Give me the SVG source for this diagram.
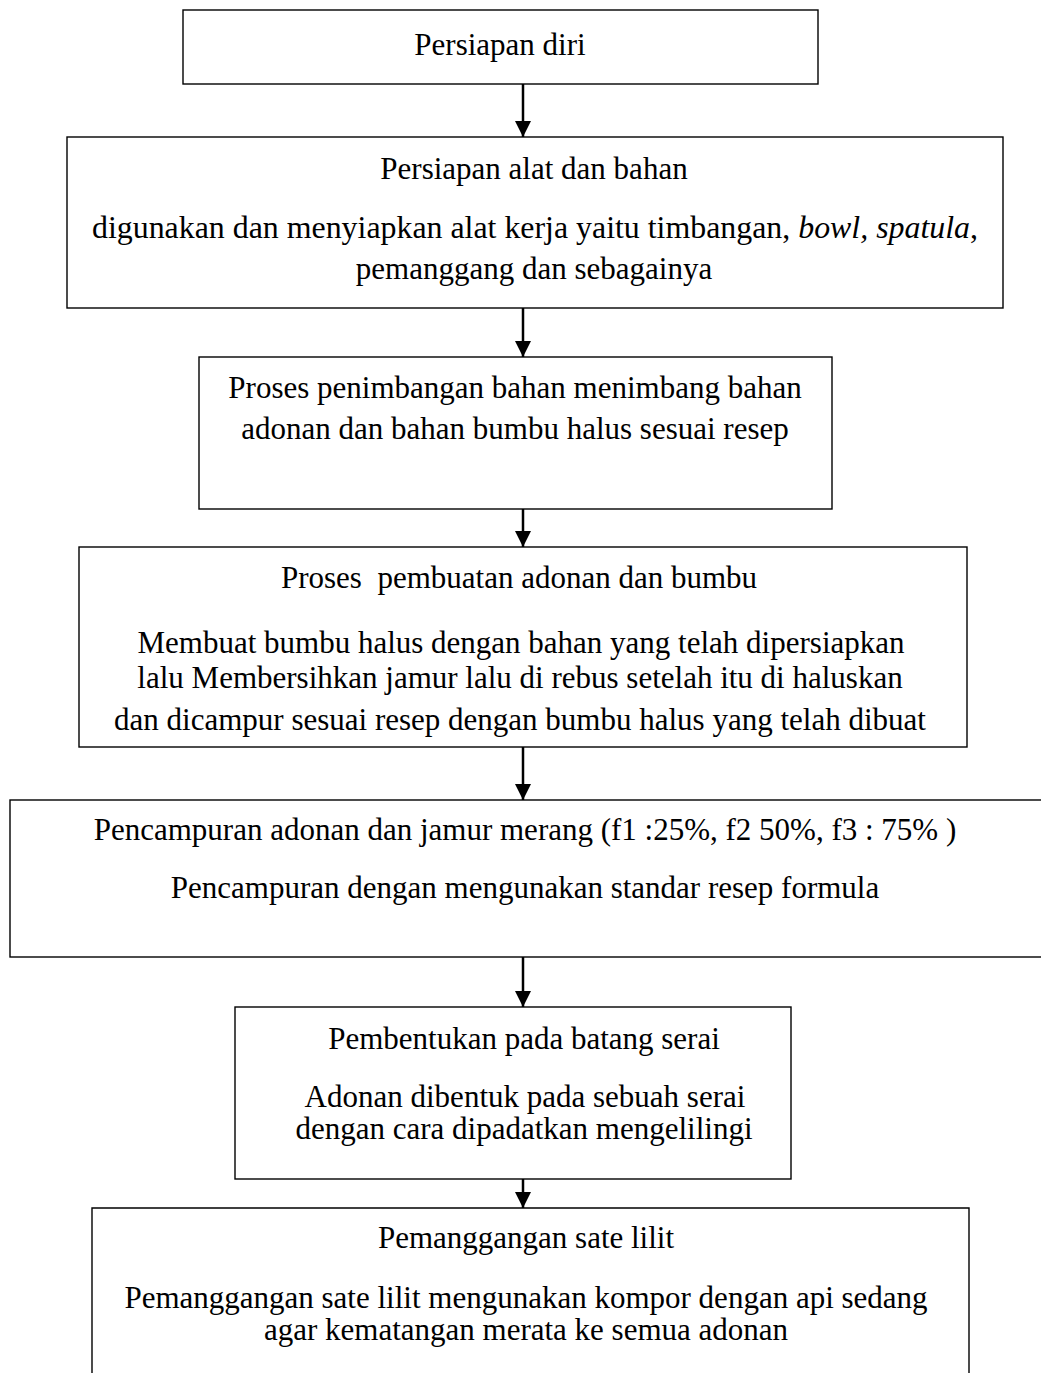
<svg xmlns="http://www.w3.org/2000/svg" width="1041" height="1373" viewBox="0 0 1041 1373">
<style>
.box{fill:#fff;stroke:#000;stroke-width:1.4}
.t{font-family:"Liberation Serif","Times New Roman",serif;font-size:31px;fill:#000;text-anchor:middle}
.c{stroke:#000;stroke-width:2.5;fill:none}
</style>
<defs>
<marker id="ah" viewBox="0 0 16 16" refX="16" refY="8" markerWidth="16" markerHeight="16" markerUnits="userSpaceOnUse" orient="auto">
<path d="M0,0 L16,8 L0,16 Z" fill="#000"/>
</marker>
</defs>
<rect width="1041" height="1373" fill="#fff"/>
<g id="n1"><rect class="box" x="183" y="10" width="635" height="74"/>
<text class="t" x="500" y="55">Persiapan diri</text></g>
<g id="n2"><rect class="box" x="67" y="137" width="936" height="171"/>
<text class="t" x="534" y="179">Persiapan alat dan bahan</text>
<text class="t" x="535" y="238" textLength="886" lengthAdjust="spacingAndGlyphs">digunakan dan menyiapkan alat kerja yaitu timbangan, <tspan font-style="italic">bowl, spatula</tspan>,</text>
<text class="t" x="534" y="279">pemanggang dan sebagainya</text></g>
<g id="n3"><rect class="box" x="199" y="357" width="633" height="152"/>
<text class="t" x="515" y="398">Proses penimbangan bahan menimbang bahan</text>
<text class="t" x="515" y="439">adonan dan bahan bumbu halus sesuai resep</text></g>
<g id="n4"><rect class="box" x="79" y="547" width="888" height="200"/>
<text class="t" x="519" y="588" xml:space="preserve">Proses  pembuatan adonan dan bumbu</text>
<text class="t" x="521" y="653">Membuat bumbu halus dengan bahan yang telah dipersiapkan</text>
<text class="t" x="520" y="688">lalu Membersihkan jamur lalu di rebus setelah itu di haluskan</text>
<text class="t" x="520" y="730">dan dicampur sesuai resep dengan bumbu halus yang telah dibuat</text></g>
<g id="n5"><rect class="box" x="10" y="800" width="1040" height="157"/>
<text class="t" x="525" y="840">Pencampuran adonan dan jamur merang (f1 :25%, f2 50%, f3 : 75% )</text>
<text class="t" x="525" y="898">Pencampuran dengan mengunakan standar resep formula</text></g>
<g id="n6"><rect class="box" x="235" y="1007" width="556" height="172"/>
<text class="t" x="524" y="1049">Pembentukan pada batang serai</text>
<text class="t" x="525" y="1107">Adonan dibentuk pada sebuah serai</text>
<text class="t" x="524" y="1139">dengan cara dipadatkan mengelilingi</text></g>
<g id="n7"><path class="box" d="M92,1373 V1208 H969 V1373"/>
<text class="t" x="526" y="1248">Pemanggangan sate lilit</text>
<text class="t" x="526" y="1308">Pemanggangan sate lilit mengunakan kompor dengan api sedang</text>
<text class="t" x="526" y="1340">agar kematangan merata ke semua adonan</text></g>
<g id="connectors">
<line class="c" x1="523" y1="84" x2="523" y2="137" marker-end="url(#ah)"/>
<line class="c" x1="523" y1="308" x2="523" y2="357" marker-end="url(#ah)"/>
<line class="c" x1="523" y1="509" x2="523" y2="547" marker-end="url(#ah)"/>
<line class="c" x1="523" y1="747" x2="523" y2="800" marker-end="url(#ah)"/>
<line class="c" x1="523" y1="957" x2="523" y2="1007" marker-end="url(#ah)"/>
<line class="c" x1="523" y1="1179" x2="523" y2="1208" marker-end="url(#ah)"/>
</g>
</svg>
